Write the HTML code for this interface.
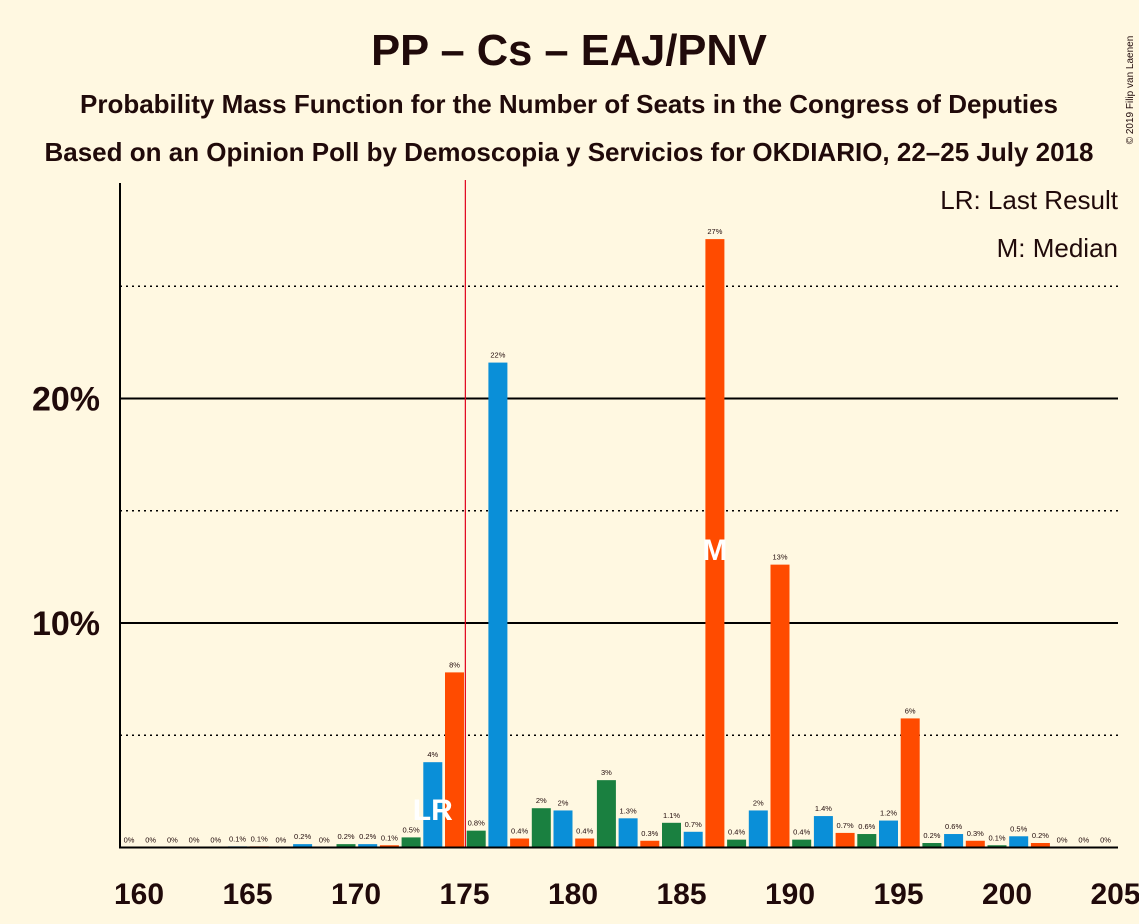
<!DOCTYPE html>
<html><head><meta charset="utf-8"><style>
body{margin:0;background:#fff8e1;}
svg{display:block;font-family:"Liberation Sans",sans-serif;}
</style></head><body>
<svg id="chart" width="1139" height="924">
<rect width="1139" height="924" fill="#fff8e1"/>
<text x="569" y="65" text-anchor="middle" font-size="43.5" font-weight="bold" fill="#200a0a">PP – Cs – EAJ/PNV</text>
<text x="569" y="113" text-anchor="middle" font-size="26" font-weight="bold" fill="#200a0a">Probability Mass Function for the Number of Seats in the Congress of Deputies</text>
<text x="569" y="161" text-anchor="middle" font-size="26" font-weight="bold" fill="#200a0a">Based on an Opinion Poll by Demoscopia y Servicios for OKDIARIO, 22–25 July 2018</text>
<text x="1133" y="90" font-size="10" fill="#200a0a" transform="rotate(-90 1133 90)" text-anchor="middle">© 2019 Filip van Laenen</text>
<text x="1118" y="209" text-anchor="end" font-size="26" fill="#200a0a">LR: Last Result</text>
<text x="1118" y="257" text-anchor="end" font-size="26" fill="#200a0a">M: Median</text>
<g id="grid"></g><g id="bars"></g><g id="axes"></g>
</svg>
<script>
const seats=[160,161,162,163,164,165,166,167,168,169,170,171,172,173,174,175,176,177,178,179,180,181,182,183,184,185,186,187,188,189,190,191,192,193,194,195,196,197,198,199,200,201,202,203,204,205];
const probs=[0,0,0,0,0,0.05,0.05,0,0.15,0,0.15,0.15,0.1,0.45,3.8,7.8,0.75,21.6,0.4,1.75,1.65,0.4,3.0,1.3,0.3,1.1,0.7,27.1,0.35,1.65,12.6,0.35,1.4,0.65,0.6,1.2,5.75,0.2,0.6,0.3,0.1,0.5,0.2,0,0,0];
const labels=["0%","0%","0%","0%","0%","0.1%","0.1%","0%","0.2%","0%","0.2%","0.2%","0.1%","0.5%","4%","8%","0.8%","22%","0.4%","2%","2%","0.4%","3%","1.3%","0.3%","1.1%","0.7%","27%","0.4%","2%","13%","0.4%","1.4%","0.7%","0.6%","1.2%","6%","0.2%","0.6%","0.3%","0.1%","0.5%","0.2%","0%","0%","0%"];
const xTicks=[160,165,170,175,180,185,190,195,200,205];
const yTicks=[5,10,15,20,25];
const lastResult=174, median=187;
const NS="http://www.w3.org/2000/svg";
const xs=s=>454.5+(s-175)*21.7;
const ys=p=>847.5-p*22.45;
function mk(t,a,p){const e=document.createElementNS(NS,t);for(const k in a)e.setAttribute(k,a[k]);p.appendChild(e);return e;}
const g=document.getElementById('grid'),b=document.getElementById('bars'),ax=document.getElementById('axes');
yTicks.forEach(v=>{const solid=v%10===0;const l=mk('line',{x1:120,x2:1118,y1:ys(v),y2:ys(v),stroke:'#000','stroke-width':solid?2:1.5,'stroke-dasharray':solid?'none':'2,4'},g);


if(solid){const t=mk('text',{x:100,y:ys(v)+12,'text-anchor':'end','font-size':34,'font-weight':'bold',fill:'#200a0a'},ax);t.textContent=v+'%';

}});
const cols=['#0a8fd8','#ff4b00','#1a8040'];
seats.forEach((s,i)=>{const c=cols[((s-174)%3+3)%3];const y=ys(probs[i]);
const r=mk('rect',{x:xs(s)-9.5,y:y,width:19,height:847.5-y,fill:c},b);


const t=mk('text',{x:xs(s),y:y-5,'text-anchor':'middle','font-size':7.5,fill:'#200a0a'},b);t.textContent=labels[i];

});
const lr=mk('text',{x:xs(lastResult),y:820,'text-anchor':'middle','font-size':30,'font-weight':'bold',fill:'#fff'},b);lr.textContent='LR';


const md=mk('text',{x:xs(median),y:560,'text-anchor':'middle','font-size':30,'font-weight':'bold',fill:'#fff'},b);md.textContent='M';


const ml=mk('line',{x1:(xs(175)+xs(176))/2,x2:(xs(175)+xs(176))/2,y1:180,y2:847,stroke:'#e0001a','stroke-width':1.2},ax);


const ya=mk('line',{x1:120,x2:120,y1:183,y2:848,stroke:'#000','stroke-width':2},ax);


const xa=mk('line',{x1:119,x2:1118,y1:847.5,y2:847.5,stroke:'#000','stroke-width':2},ax);


xTicks.forEach(v=>{const t=mk('text',{x:xs(v)+10,y:904,'text-anchor':'middle','font-size':30,'font-weight':'bold',fill:'#200a0a'},ax);t.textContent=v;

});
</script>
</body></html>
